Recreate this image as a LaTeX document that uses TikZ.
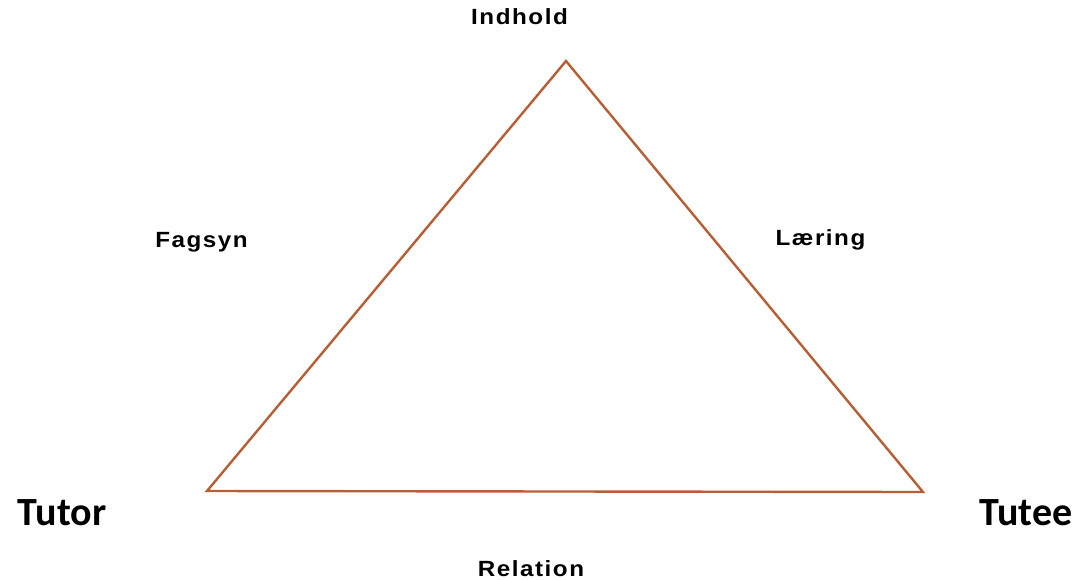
\documentclass[tikz,border=0pt]{standalone}
\usepackage{fontspec}
\setmainfont{Liberation Sans}
\newfontfamily\labelfont[FakeStretch=1.1,LetterSpace=7]{Liberation Sans}
\newfontfamily\rolefont{Carlito}
\definecolor{edgebrown}{RGB}{184,94,52}
\begin{document}
\begin{tikzpicture}[x=1pt,y=-1pt,
  label/.style={anchor=base,inner sep=0pt,font=\labelfont\bfseries\fontsize{22}{24}\selectfont},
  role/.style={anchor=base,inner sep=0pt,font=\rolefont\bfseries\fontsize{40}{44}\selectfont},
  edge/.style={draw=edgebrown,line width=2.4pt,line join=miter}]
  \useasboundingbox (0,0) rectangle (1082,579);
  % vertices of the triangle
  \coordinate (top) at (566,61);
  \coordinate (left) at (207,491);
  \coordinate (right) at (923,492);
  \draw[edge] (top) -- (left) -- (right) -- cycle;
  % side and corner labels
  \node[label] (indhold) at (519.5,24) {Indhold};
  \node[label] (fagsyn) at (201.5,247) {Fagsyn};
  \node[label] (laering) at (820.5,245) {Læring};
  \node[label] (relation) at (531,576) {Relation};
  \node[role] (tutor) at (62,525) {Tutor};
  \node[role] (tutee) at (1026,525) {Tutee};
\end{tikzpicture}
\end{document}
